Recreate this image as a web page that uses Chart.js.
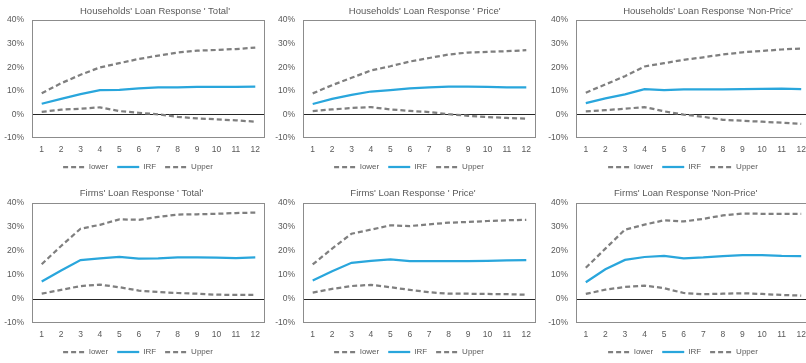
<!DOCTYPE html>
<html>
<head>
<meta charset="utf-8">
<script src="https://cdn.jsdelivr.net/npm/chart.js@4.4.1/dist/chart.umd.min.js"></script>
<style>
  html, body { margin: 0; padding: 0; background: #fff; }
  body { width: 806px; height: 363px; overflow: hidden; position: relative;
         font-family: "Liberation Sans", Arial, sans-serif; }
  .panel { position: absolute; }
  .panel canvas { display: block; }
  .title { position: absolute; font-size: 9.5px; line-height: 1; color: #595959;
           white-space: nowrap; transform: translate(-50%, -50%); }
</style>
</head>
<body>
<script>
// Horizon (periods after the shock)
const periods = ['1', '2', '3', '4', '5', '6', '7', '8', '9', '10', '11', '12'];
// Y axis tick values, in percent
const yTickValues = [-10, 0, 10, 20, 30, 40];
const seriesNames = ['lower', 'IRF', 'Upper'];

// Households' loan response, 'Total'
const hhTotalLower = [1.1, 2.0, 2.4, 3.0, 1.4, 0.7, 0.0, -1.0, -1.7, -2.1, -2.5, -3.1];
const hhTotalIRF   = [4.5, 6.6, 8.6, 10.3, 10.4, 11.0, 11.4, 11.5, 11.7, 11.7, 11.7, 11.8];
const hhTotalUpper = [9.0, 13.2, 16.8, 19.9, 21.7, 23.5, 24.9, 26.2, 27.0, 27.3, 27.7, 28.3];

// Households' loan response, 'Price'
const hhPriceLower = [1.4, 2.1, 2.7, 3.1, 2.1, 1.5, 1.0, 0.1, -0.6, -1.1, -1.5, -1.8];
const hhPriceIRF   = [4.4, 6.6, 8.3, 9.7, 10.3, 11.0, 11.5, 11.8, 11.8, 11.7, 11.5, 11.5];
const hhPriceUpper = [8.9, 12.4, 15.5, 18.6, 20.4, 22.4, 23.9, 25.4, 26.2, 26.5, 26.8, 27.2];

// Households' loan response, 'Non-Price'
const hhNonPriceLower = [1.3, 1.8, 2.4, 3.1, 1.3, -0.1, -1.0, -2.3, -2.7, -3.1, -3.5, -4.0];
const hhNonPriceIRF   = [4.8, 6.8, 8.5, 10.7, 10.3, 10.6, 10.6, 10.6, 10.7, 10.8, 10.9, 10.7];
const hhNonPriceUpper = [9.2, 12.7, 16.2, 20.3, 21.7, 23.1, 24.2, 25.4, 26.3, 26.9, 27.5, 27.9];

// Firms' loan response, 'Total'
const fmTotalLower = [2.2, 3.8, 5.4, 6.0, 4.9, 3.5, 2.9, 2.5, 2.2, 1.8, 1.7, 1.7];
const fmTotalIRF   = [7.3, 11.9, 16.2, 16.9, 17.5, 16.8, 16.9, 17.3, 17.3, 17.2, 17.0, 17.3];
const fmTotalUpper = [14.5, 22.1, 29.3, 30.9, 33.2, 33.0, 34.2, 35.2, 35.3, 35.5, 35.8, 36.0];

// Firms' loan response, 'Price'
const fmPriceLower = [2.7, 4.2, 5.4, 5.9, 4.9, 3.8, 2.8, 2.2, 2.2, 2.1, 2.0, 1.8];
const fmPriceIRF   = [7.7, 11.6, 15.1, 15.9, 16.5, 15.8, 15.8, 15.8, 15.8, 15.9, 16.1, 16.2];
const fmPriceUpper = [14.4, 21.0, 27.2, 28.9, 30.7, 30.4, 31.1, 31.8, 32.1, 32.5, 32.8, 33.0];

// Firms' loan response, 'Non-Price'
const fmNonPriceLower = [2.1, 3.9, 5.0, 5.6, 4.5, 2.5, 2.0, 2.2, 2.4, 2.1, 1.7, 1.4];
const fmNonPriceIRF   = [7.0, 12.4, 16.3, 17.5, 18.0, 16.9, 17.3, 17.9, 18.3, 18.3, 18.0, 17.9];
const fmNonPriceUpper = [13.0, 21.0, 28.9, 31.0, 32.8, 32.3, 33.4, 34.8, 35.6, 35.5, 35.5, 35.5];

const panelTitles = [
  "Households' Loan Response ' Total'",
  "Households' Loan Response ' Price'",
  "Households' Loan Response 'Non-Price'",
  "Firms' Loan  Response ' Total'",
  "Firms' Loan  Response ' Price'",
  "Firms' Loan  Response 'Non-Price'"
];

const panelSeries = [
  [hhTotalLower, hhTotalIRF, hhTotalUpper],
  [hhPriceLower, hhPriceIRF, hhPriceUpper],
  [hhNonPriceLower, hhNonPriceIRF, hhNonPriceUpper],
  [fmTotalLower, fmTotalIRF, fmTotalUpper],
  [fmPriceLower, fmPriceIRF, fmPriceUpper],
  [fmNonPriceLower, fmNonPriceIRF, fmNonPriceUpper]
];

// Placement of each small chart on the page
const panelBoxes = [
  { left: 0,   top: 0,   width: 276, height: 181, titleX: 155,   titleY: 10.7 },
  { left: 271, top: 0,   width: 276, height: 181, titleX: 424.7, titleY: 10.7 },
  { left: 544, top: 0,   width: 278, height: 181, titleX: 708,   titleY: 10.7 },
  { left: 0,   top: 183, width: 276, height: 183, titleX: 141.5, titleY: 193.3 },
  { left: 271, top: 183, width: 276, height: 183, titleX: 413,   titleY: 193.3 },
  { left: 544, top: 183, width: 278, height: 183, titleX: 685.7, titleY: 193.3 }
];

const TEXT = '#595959';
const GREY_LINE = '#7f7f7f';
const BLUE_LINE = '#29a6dc';
const FONT = '"Liberation Sans", Arial, sans-serif';

// Grey frame around the plotting area
const plotFrame = {
  id: 'plotFrame',
  beforeDatasetsDraw(chart) {
    const { ctx, chartArea: a } = chart;
    const l = Math.round(a.left) + 0.5, t = Math.round(a.top) + 0.5;
    const r = Math.round(a.right) - 0.5, b = Math.round(a.bottom) - 0.5;
    ctx.save();
    ctx.strokeStyle = '#8c8c8c';
    ctx.lineWidth = 1;
    ctx.strokeRect(l, t, r - l, b - t);
    ctx.restore();
  }
};

function makeDataset(label, data, solid) {
  return {
    label,
    data,
    borderColor: solid ? BLUE_LINE : GREY_LINE,
    backgroundColor: solid ? BLUE_LINE : GREY_LINE,
    borderWidth: 2.25,
    borderDash: solid ? [] : [5, 3],
    pointRadius: 0,
    pointHoverRadius: 0,
    pointStyle: 'line',
    tension: 0,
    fill: false
  };
}

// Legend entries drawn as short line samples carrying each series' dash pattern
function legendLabels(chart) {
  const items = Chart.defaults.plugins.legend.labels.generateLabels(chart);
  items.forEach(item => {
    const ds = chart.data.datasets[item.datasetIndex];
    item.lineDash = ds.borderDash;
    item.lineWidth = ds.borderWidth;
    item.strokeStyle = ds.borderColor;
    item.fillStyle = ds.borderColor;
    item.pointStyle = 'line';
  });
  return items;
}

panelBoxes.forEach((box, i) => {
  const wrap = document.createElement('div');
  wrap.className = 'panel';
  wrap.style.left = box.left + 'px';
  wrap.style.top = box.top + 'px';
  wrap.style.width = box.width + 'px';
  wrap.style.height = box.height + 'px';
  const canvas = document.createElement('canvas');
  canvas.width = box.width;
  canvas.height = box.height;
  canvas.style.width = box.width + 'px';
  canvas.style.height = box.height + 'px';
  wrap.appendChild(canvas);
  document.body.appendChild(wrap);

  const title = document.createElement('div');
  title.className = 'title';
  title.textContent = panelTitles[i];
  title.style.left = box.titleX + 'px';
  title.style.top = box.titleY + 'px';
  document.body.appendChild(title);

  const [lower, irf, upper] = panelSeries[i];

  new Chart(canvas, {
    type: 'line',
    data: {
      labels: periods,
      datasets: [
        makeDataset(seriesNames[0], lower, false),
        makeDataset(seriesNames[1], irf, true),
        makeDataset(seriesNames[2], upper, false)
      ]
    },
    options: {
      responsive: false,
      animation: false,
      devicePixelRatio: 1,
      events: [],
      layout: { padding: { top: 20, left: 0, right: 0, bottom: 0 } },
      plugins: {
        title: { display: false },
        tooltip: { enabled: false },
        legend: {
          display: true,
          position: 'bottom',
          labels: {
            usePointStyle: true,
            pointStyleWidth: 22,
            padding: 9,
            color: TEXT,
            font: { family: FONT, size: 8 },
            generateLabels: legendLabels
          }
        }
      },
      scales: {
        x: {
          type: 'category',
          offset: true,
          grid: { display: false, drawTicks: false },
          border: { display: false },
          ticks: { color: TEXT, padding: 7, maxRotation: 0, autoSkip: false,
                   font: { family: FONT, size: 8.5 } },
          afterFit(s) { s.height = 16; }
        },
        y: {
          position: 'left',
          min: yTickValues[0],
          max: yTickValues[yTickValues.length - 1],
          afterBuildTicks(s) { s.ticks = yTickValues.map(v => ({ value: v })); },
          grid: {
            drawTicks: false,
            lineWidth: 1,
            color: c => (c.tick && c.tick.value === 0) ? '#262626' : 'rgba(0,0,0,0)'
          },
          border: { display: false },
          ticks: { color: TEXT, padding: 8, font: { family: FONT, size: 8.5 },
                   callback: v => v + '%' },
          afterFit(s) { s.width = 32; }
        },
        yPad: {
          position: 'right',
          display: true,
          grid: { display: false, drawTicks: false },
          border: { display: false },
          ticks: { display: false },
          afterFit(s) { s.width = 11; }
        }
      }
    },
    plugins: [plotFrame]
  });
});
</script>
</body>
</html>
